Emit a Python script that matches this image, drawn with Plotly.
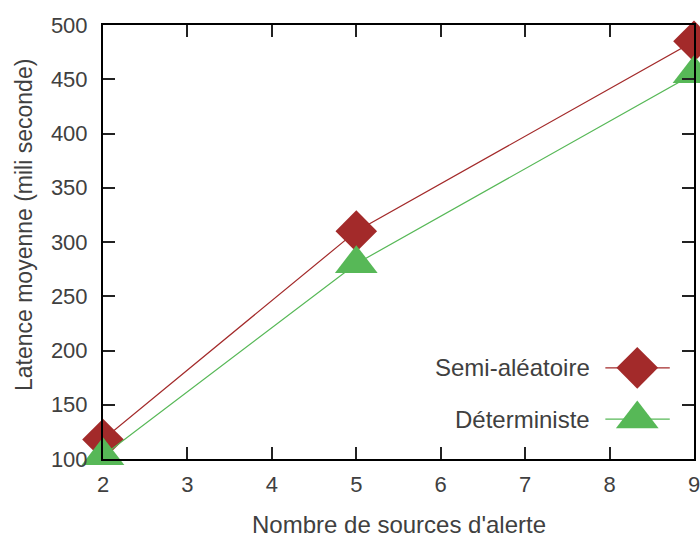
import plotly.graph_objects as go

sources = [2, 5, 9]
semi_aleatoire = [118, 310, 485]
deterministe = [103, 280, 455]
series_names = ["Semi-aléatoire", "Déterministe"]
x_ticks = [2, 3, 4, 5, 6, 7, 8, 9]
y_ticks = [100, 150, 200, 250, 300, 350, 400, 450, 500]
x_title = "Nombre de sources d'alerte"
y_title = "Latence moyenne (mili seconde)"

RED = "#a32a2a"
GREEN = "#57b857"
FONT = "Liberation Sans, Arial, sans-serif"
TXT = "#404040"

fig = go.Figure()
fig.add_trace(go.Scatter(x=sources, y=semi_aleatoire, mode="lines+markers",
                         line=dict(color=RED, width=1.2),
                         marker=dict(symbol="diamond", size=32, color=RED, line=dict(width=0)),
                         cliponaxis=False, showlegend=False))
fig.add_trace(go.Scatter(x=sources, y=deterministe, mode="lines+markers",
                         line=dict(color=GREEN, width=1.2),
                         marker=dict(symbol="triangle-up", size=37, color=GREEN, line=dict(width=0)),
                         cliponaxis=False, showlegend=False))

# Legend samples (gnuplot style: text on the left, sample on the right)
leg_y = [0.21, 0.092]
leg_styles = [(RED, "diamond", 32), (GREEN, "triangle-up", 37)]
for name, yy, (col, sym, sz) in zip(series_names, leg_y, leg_styles):
    fig.add_trace(go.Scatter(x=[0.85, 0.959], y=[yy, yy], mode="lines", xaxis="x2", yaxis="y2",
                             line=dict(color=col, width=1.2), showlegend=False, hoverinfo="skip"))
    fig.add_trace(go.Scatter(x=[0.904], y=[yy], mode="markers", xaxis="x2", yaxis="y2",
                             marker=dict(symbol=sym, size=sz, color=col, line=dict(width=0)),
                             cliponaxis=False, showlegend=False, hoverinfo="skip"))
    fig.add_annotation(x=0.827, y=yy, xref="x2", yref="y2", text=name, showarrow=False,
                       xanchor="right", yanchor="middle", font=dict(family=FONT, size=24, color=TXT))

# Axis titles
fig.add_annotation(x=0.5, y=-0.152, xref="paper", yref="paper", text=x_title, showarrow=False,
                   xanchor="center", yanchor="middle", font=dict(family=FONT, size=24, color=TXT))
fig.add_annotation(x=-0.1337, y=0.539, xref="paper", yref="paper", text=y_title, showarrow=False,
                   textangle=-90, xanchor="center", yanchor="middle",
                   font=dict(family=FONT, size=23, color=TXT))

axis_common = dict(showgrid=False, zeroline=False, showline=True, linecolor="black", linewidth=2,
                   mirror="ticks", ticks="inside", ticklen=12, tickwidth=1.5, tickcolor="#222",
                   tickfont=dict(family=FONT, size=22, color=TXT), layer="above traces",
                   automargin=False, ticklabeloverflow="allow")

fig.update_layout(
    width=700, height=538, margin=dict(l=103, r=6, t=25, b=79),
    paper_bgcolor="white", plot_bgcolor="white",
    xaxis=dict(range=[2, 9], tickvals=x_ticks, ticklabelstandoff=5, **axis_common),
    yaxis=dict(range=[100, 500], tickvals=y_ticks, ticklabelstandoff=9, **axis_common),
    xaxis2=dict(range=[0, 1], overlaying="x", visible=False),
    yaxis2=dict(range=[0, 1], overlaying="y", visible=False),
)

fig.write_html("out.html")
